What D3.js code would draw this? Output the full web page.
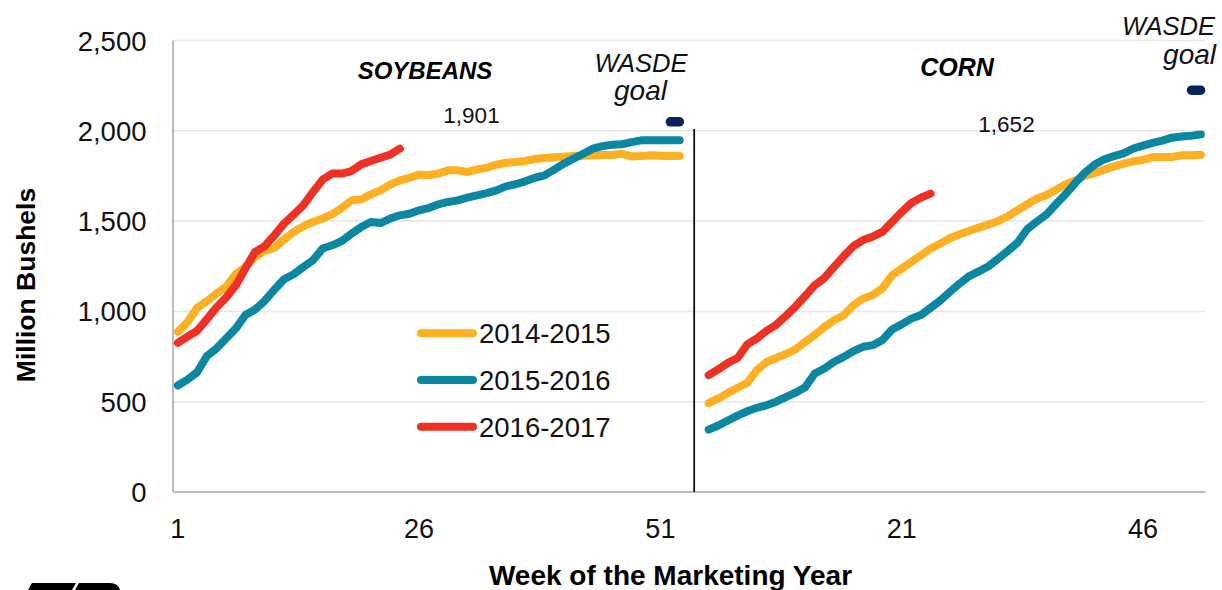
<!DOCTYPE html>
<html>
<head>
<meta charset="utf-8">
<script src="https://cdn.jsdelivr.net/npm/d3@7"></script>
<style>
  html, body { margin: 0; padding: 0; background: #fff; }
  svg { display: block; font-family: "Liberation Sans", Arial, sans-serif; }
</style>
</head>
<body>
<svg id="chart" width="1222" height="590"></svg>
<script>
// ---------- data ----------
const seriesNames = ["2014-2015", "2015-2016", "2016-2017"];
const seriesColors = ["#FDB022", "#0C87A2", "#EE3124"];
const yTicks = [0, 500, 1000, 1500, 2000, 2500];
const xTickCategory = [0, 25, 50, 75, 100];
const xTickLabels = ["1", "26", "51", "21", "46"];
const cornStartCategory = 55;   // category slot of corn week 1
const totalCategories = 107;
const panelNames = ["SOYBEANS", "CORN"];
const goalValues = [2050, 2225]; // WASDE goals (soybeans, corn)
const lastLabels = ["1,901", "1,652"];

const soy1415 = [887, 940, 1020, 1055, 1099, 1136, 1206, 1246, 1302, 1335, 1351, 1398, 1440, 1471, 1495, 1514, 1538, 1573, 1615, 1619, 1648, 1670, 1702, 1726, 1740, 1757, 1755, 1763, 1781, 1781, 1772, 1785, 1796, 1812, 1823, 1827, 1833, 1844, 1849, 1853, 1857, 1860, 1862, 1864, 1866, 1866, 1873, 1858, 1860, 1864, 1862, 1860, 1860];
const soy1516 = [590, 622, 663, 752, 794, 850, 905, 980, 1010, 1058, 1120, 1178, 1206, 1246, 1283, 1348, 1366, 1390, 1431, 1467, 1495, 1489, 1514, 1532, 1541, 1560, 1572, 1593, 1606, 1615, 1630, 1643, 1655, 1670, 1692, 1704, 1720, 1740, 1753, 1785, 1818, 1846, 1873, 1901, 1915, 1923, 1925, 1937, 1947, 1947, 1947, 1947, 1947];
const soy1617 = [826, 860, 893, 956, 1022, 1077, 1144, 1237, 1329, 1361, 1421, 1486, 1536, 1587, 1661, 1729, 1763, 1763, 1777, 1814, 1833, 1851, 1868, 1901];

const corn1415 = [492, 518, 548, 577, 605, 675, 720, 742, 764, 790, 831, 869, 914, 951, 979, 1034, 1071, 1090, 1127, 1200, 1237, 1274, 1311, 1348, 1375, 1405, 1427, 1445, 1464, 1481, 1500, 1527, 1560, 1593, 1624, 1645, 1674, 1704, 1726, 1750, 1766, 1785, 1803, 1818, 1831, 1838, 1855, 1855, 1855, 1864, 1864, 1868];
const corn1516 = [345, 368, 396, 423, 447, 466, 480, 500, 525, 550, 580, 656, 684, 721, 748, 780, 804, 813, 841, 900, 928, 960, 980, 1020, 1060, 1108, 1154, 1195, 1222, 1250, 1292, 1335, 1380, 1455, 1497, 1536, 1595, 1650, 1712, 1769, 1813, 1842, 1860, 1875, 1902, 1918, 1933, 1946, 1962, 1968, 1972, 1980];
const corn1617 = [647, 679, 715, 742, 817, 850, 892, 926, 975, 1027, 1085, 1145, 1185, 1246, 1306, 1361, 1395, 1414, 1440, 1495, 1550, 1600, 1630, 1652];

// ---------- layout ----------
const svg = d3.select("#chart");
const plot = { left: 173, right: 1205.7, top: 40.5, bottom: 492 };

const x = d3.scaleLinear().domain([-0.5, totalCategories - 0.5]).range([plot.left, plot.right]);
const y = d3.scaleLinear().domain([0, 2500]).range([plot.bottom, plot.top]);

// gridlines
svg.append("g").selectAll("line").data(yTicks.filter(d => d > 0)).join("line")
  .attr("x1", plot.left).attr("x2", plot.right)
  .attr("y1", d => y(d)).attr("y2", d => y(d))
  .attr("stroke", "#e6e6e6").attr("stroke-width", 1.5);

// y tick labels
svg.append("g").selectAll("text").data(yTicks).join("text")
  .attr("x", 146.5).attr("y", d => y(d) + 10)
  .attr("text-anchor", "end").attr("font-size", 27.5).attr("fill", "#111")
  .text(d => d3.format(",")(d));

// axes lines
svg.append("line").attr("x1", plot.left).attr("x2", plot.left)
  .attr("y1", plot.top).attr("y2", plot.bottom).attr("stroke", "#a6a6a6").attr("stroke-width", 1.5);
svg.append("line").attr("x1", plot.left).attr("x2", plot.right)
  .attr("y1", plot.bottom).attr("y2", plot.bottom).attr("stroke", "#a6a6a6").attr("stroke-width", 1.5);

// x tick labels
svg.append("g").selectAll("text").data(xTickCategory).join("text")
  .attr("x", d => x(d)).attr("y", 538)
  .attr("text-anchor", "middle").attr("font-size", 27).attr("fill", "#111")
  .text((d, i) => xTickLabels[i]);

// divider between panels
svg.append("line")
  .attr("x1", x(cornStartCategory - 1.5)).attr("x2", x(cornStartCategory - 1.5))
  .attr("y1", y(2010)).attr("y2", plot.bottom)
  .attr("stroke", "#111").attr("stroke-width", 1.8);

// series
const soySeries = [soy1415, soy1516, soy1617];
const cornSeries = [corn1415, corn1516, corn1617];
const line = d3.line().x(d => x(d.c)).y(d => y(d.v));
const linesG = svg.append("g").attr("fill", "none").attr("stroke-width", 8)
  .attr("stroke-linecap", "round").attr("stroke-linejoin", "round");
seriesNames.forEach((name, k) => {
  const soyPts = soySeries[k].map((v, i) => ({ c: i, v }));
  const cornPts = cornSeries[k].map((v, i) => ({ c: cornStartCategory + i, v }));
  linesG.append("path").datum(soyPts).attr("d", line).attr("stroke", seriesColors[k]);
  linesG.append("path").datum(cornPts).attr("d", line).attr("stroke", seriesColors[k]);
});

// WASDE goal dashes
const goalCats = [soy1415.length - 1.5, cornStartCategory + corn1415.length - 1.5];
svg.append("g").selectAll("line").data(goalValues).join("line")
  .attr("x1", (d, i) => x(goalCats[i]) - 4.5).attr("x2", (d, i) => x(goalCats[i]) + 4.5)
  .attr("y1", d => y(d)).attr("y2", d => y(d))
  .attr("stroke", "#0A2160").attr("stroke-width", 9.5).attr("stroke-linecap", "round");

// panel titles
svg.append("text").attr("x", 425).attr("y", 79).attr("text-anchor", "middle")
  .attr("font-size", 24).attr("font-weight", "bold").attr("font-style", "italic").attr("fill", "#000")
  .text(panelNames[0]);
svg.append("text").attr("x", 957).attr("y", 76).attr("text-anchor", "middle")
  .attr("font-size", 25).attr("font-weight", "bold").attr("font-style", "italic").attr("fill", "#000")
  .text(panelNames[1]);

// last-value labels
svg.append("text").attr("x", 471.5).attr("y", 122.5).attr("text-anchor", "middle")
  .attr("font-size", 22.5).attr("fill", "#111").text(lastLabels[0]);
svg.append("text").attr("x", 1006.5).attr("y", 131.5).attr("text-anchor", "middle")
  .attr("font-size", 22.5).attr("fill", "#111").text(lastLabels[1]);

// WASDE goal labels
const wasde = svg.append("g").attr("font-style", "italic").attr("fill", "#111").attr("font-size", 25.5);
wasde.append("text").attr("x", 641).attr("y", 71.5).attr("text-anchor", "middle").text("WASDE");
wasde.append("text").attr("x", 640.5).attr("y", 100).attr("text-anchor", "middle").attr("font-size", 28).text("goal");
wasde.append("text").attr("x", 1215).attr("y", 35).attr("text-anchor", "end").text("WASDE");
wasde.append("text").attr("x", 1216).attr("y", 63.5).attr("text-anchor", "end").attr("font-size", 28).text("goal");

// legend
const legend = svg.append("g");
seriesNames.forEach((name, k) => {
  const ly = 333.3 + k * 46.7;
  legend.append("line").attr("x1", 421).attr("x2", 473).attr("y1", ly).attr("y2", ly)
    .attr("stroke", seriesColors[k]).attr("stroke-width", 8).attr("stroke-linecap", "round");
  legend.append("text").attr("x", 479).attr("y", ly + 10)
    .attr("font-size", 27.5).attr("fill", "#111").text(name);
});

// axis titles
svg.append("text").attr("x", 670.5).attr("y", 585).attr("text-anchor", "middle")
  .attr("font-size", 28).attr("font-weight", "bold").attr("fill", "#000")
  .text("Week of the Marketing Year");
svg.append("text").attr("transform", "translate(35,285) rotate(-90)").attr("text-anchor", "middle")
  .attr("font-size", 26.5).attr("font-weight", "bold").attr("fill", "#000")
  .text("Million Bushels");

// logo fragment at bottom-left (top of a bold italic mark, cut by the canvas)
svg.append("path").attr("d", "M28,590 L32,583 L76,583 L72,590 Z").attr("fill", "#000");
svg.append("path").attr("d", "M75,590 L79,583 L110,583 Q118,583 120,590 Z").attr("fill", "#000");
</script>
</body>
</html>
